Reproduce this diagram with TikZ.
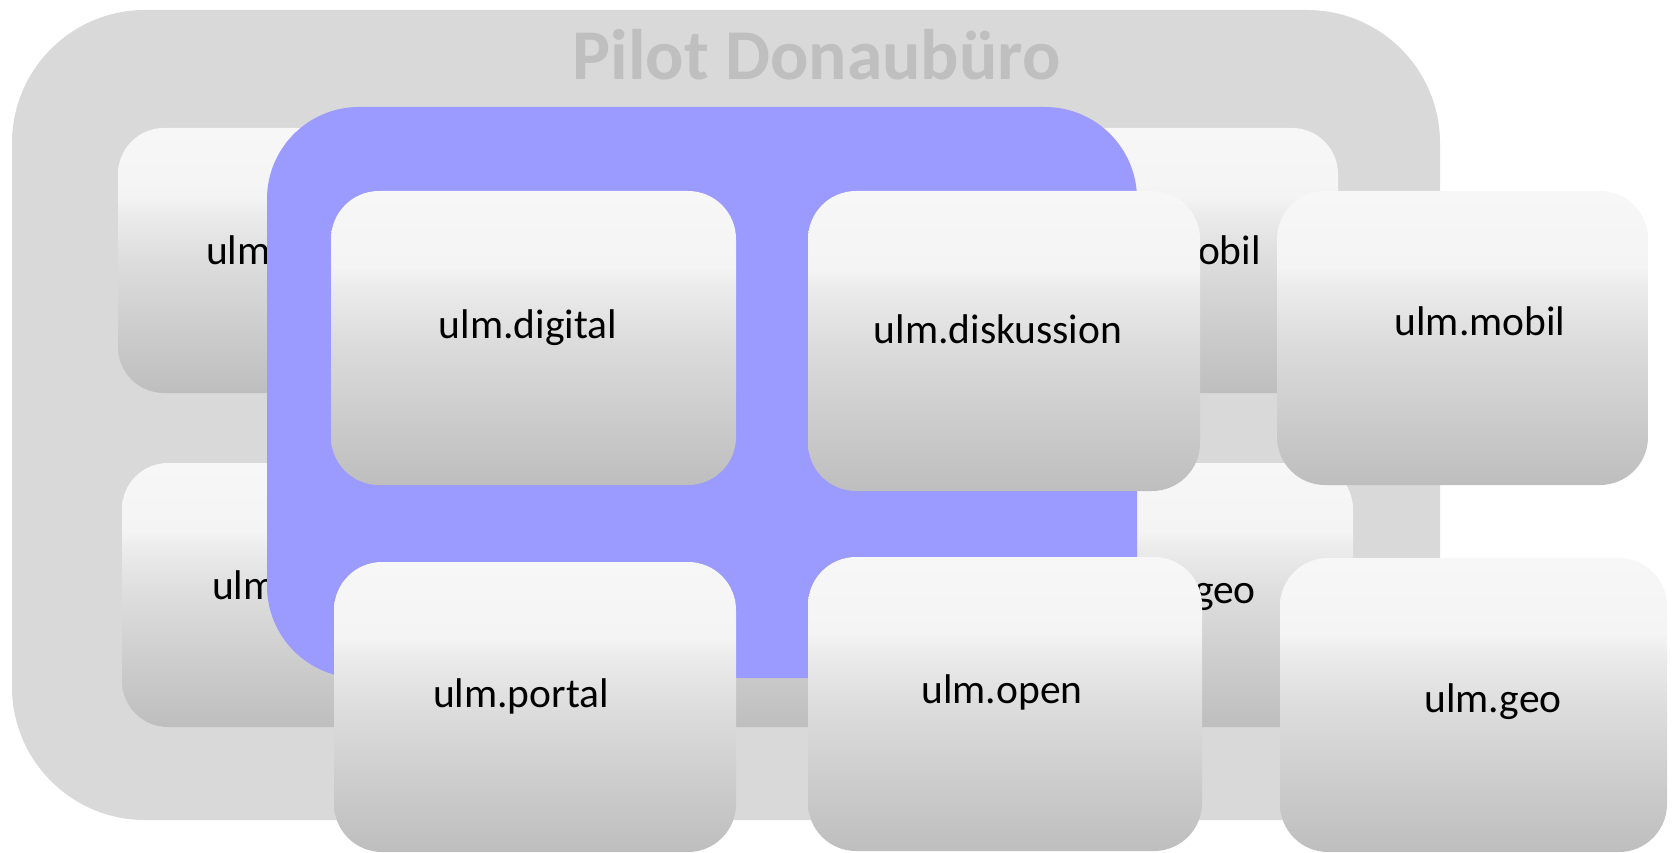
\documentclass[tikz,border=0pt]{standalone}
\usepackage{fontspec}
\setmainfont{Carlito}
\definecolor{bigbg}{HTML}{D9D9D9}
\definecolor{titlegrey}{HTML}{BFBFBF}
\definecolor{bluearea}{HTML}{9A9AFF}
\definecolor{gtop}{HTML}{F7F7F7}
\definecolor{gtopb}{HTML}{F4F4F4}
\definecolor{gmida}{HTML}{ECECEC}
\definecolor{gmid}{HTML}{DDDDDD}
\definecolor{glow}{HTML}{CACACA}
\definecolor{gbot}{HTML}{BEBEBE}
\pgfdeclareverticalshading{boxshade}{100bp}{color(0bp)=(gbot); color(25bp)=(gbot); color(35bp)=(glow); color(50bp)=(gmid); color(59bp)=(gmida); color(62bp)=(gtopb); color(75bp)=(gtop); color(100bp)=(gtop)}
\tikzset{
  bigbox/.style={fill=bigbg, rounded corners=133pt},
  backbox/.style={shade, shading=boxshade, rounded corners=46pt},
  frontbox/.style={shade, shading=boxshade, rounded corners=48pt},
  bluebox/.style={fill=bluearea, rounded corners=92pt},
  lbl/.style={inner sep=0pt, text=black, font=\fontsize{41.5pt}{48pt}\selectfont},
  ttl/.style={inner sep=0pt, text=titlegrey, font=\fontsize{71.5pt}{80pt}\selectfont\bfseries}
}
\begin{document}
\begin{tikzpicture}[x=1pt,y=-1pt]
\useasboundingbox (0,0) rectangle (1673,853);
% outer container
\path[bigbox] (12,10) rectangle (1440,820);
\node[ttl, anchor=base] (title) at (816.5,80) {Pilot Donaubüro};
% back layer
\path[backbox] (118,128) rectangle (900,393);
\path[backbox] (900,128) rectangle (1338,393);
\path[backbox] (122,463) rectangle (900,727);
\path[backbox] (900,463) rectangle (1353,727);
\node[lbl, anchor=base west] (bk1) at (206,265) {ulm};
\node[lbl, anchor=base east] (bk2) at (1261,265) {ulm.mobil};
\node[lbl, anchor=base west] (bk3) at (212,599) {ulm};
\node[lbl, anchor=base east] (bk4) at (1256,603) {ulm.geo};
% blue area
\path[bluebox] (267,107) rectangle (1137,678);
% front boxes
\path[frontbox] (331,191) rectangle (736,485);
\path[frontbox] (808,191) rectangle (1200,491);
\path[frontbox] (1277,191) rectangle (1648,485);
\path[frontbox] (334,562) rectangle (736,852);
\path[frontbox] (808,557) rectangle (1202,851);
\path[frontbox] (1280,558) rectangle (1667,852);
\node[lbl, anchor=base] (digital) at (528,338) {ulm.digital};
\node[lbl, anchor=base] (diskussion) at (998,343) {ulm.diskussion};
\node[lbl, anchor=base] (mobil) at (1480,335) {ulm.mobil};
\node[lbl, anchor=base] (portal) at (521,707) {ulm.portal};
\node[lbl, anchor=base] (open) at (1002,703) {ulm.open};
\node[lbl, anchor=base] (geo) at (1493,712) {ulm.geo};
\end{tikzpicture}
\end{document}
